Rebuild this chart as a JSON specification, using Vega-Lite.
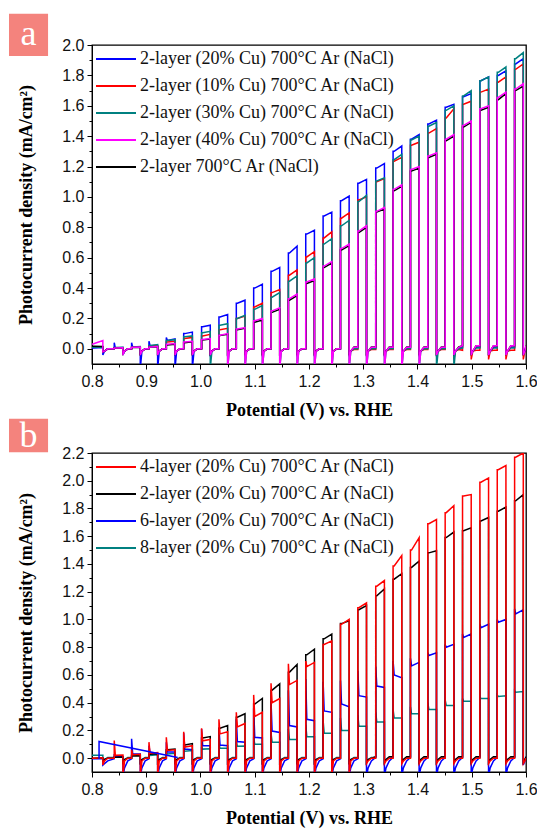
{
  "$schema": "https://vega.github.io/schema/vega-lite/v6.json",
  "padding": {"left": 8, "top": 13, "right": 4, "bottom": 4},
  "background": "white",
  "config": {
    "view": {"stroke": "#000", "strokeWidth": 1.3},
    "axis": {"grid": false, "domainColor": "#000", "tickColor": "#000", "labelColor": "#111", "titleColor": "#000", "labelFont": "Liberation Sans", "labelFontSize": 16, "titleFont": "Liberation Serif", "titleFontSize": 18, "titleFontWeight": "bold", "labelFlush": false, "labelBound": false, "labelOverlap": false, "tickSize": 5},
    "legend": {"orient": "top-left", "offset": 1, "padding": 2, "symbolType": "M-1,0H3", "symbolSize": 400, "symbolStrokeWidth": 2, "labelFont": "Liberation Serif", "labelFontSize": 18, "labelColor": "#111", "rowPadding": 7, "labelOffset": 23, "labelLimit": 400, "title": null}
  },
  "datasets": {
    "pc": [
{"i":0,"x":0.800,"a1":0.005,"a2":0.01,"a3":0.01,"a4":0.03,"a5":0.017,"b1":0,"b2":0,"b3":-0.005,"b4":0.02},
{"i":1,"x":0.803,"a1":0.005,"a2":0.01,"a3":0.01,"a4":0.033,"a5":0.017,"b1":0,"b2":0,"b3":-0.005,"b4":0.02},
{"i":2,"x":0.820,"a1":0.008,"a2":0.01,"a3":0.012,"a4":0.055,"a5":0.015,"b1":0.002,"b2":0.003,"b3":-0.005,"b4":0.02},
{"i":3,"x":0.820,"a1":-0.04,"a2":-0.02,"a3":-0.02,"a4":-0.02,"a5":-0.02,"b1":-0.05,"b2":-0.02,"b3":-0.05,"b4":-0.01},
{"i":4,"x":0.823,"a1":-0.015,"a2":-0.015,"a3":-0.015,"a4":-0.015,"a5":-0.015,"b1":-0.02,"b2":-0.01,"b3":-0.04,"b4":-0.01},
{"i":5,"x":0.829,"a1":0,"a2":0,"a3":0,"a4":0,"a5":0,"b1":0,"b2":0,"b3":-0.02,"b4":0.005},
{"i":6,"x":0.841,"a1":0,"a2":0,"a3":0,"a4":0,"a5":0,"b1":0,"b2":0,"b3":-0.005,"b4":0.005},
{"i":7,"x":0.841,"a1":0.04,"a2":0.005,"a3":0.008,"a4":0.005,"a5":0.005,"b1":0.127,"b2":0.006,"b3":0.03,"b4":0.012},
{"i":8,"x":0.843,"a1":0.005,"a2":0.005,"a3":0.008,"a4":0.005,"a5":0.005,"b1":0.02,"b2":0.006,"b3":0.01,"b4":0.012},
{"i":9,"x":0.857,"a1":0.008,"a2":0.007,"a3":0.01,"a4":0.007,"a5":0.006,"b1":0.022,"b2":0.008,"b3":0.012,"b4":0.012},
{"i":10,"x":0.857,"a1":-0.04,"a2":-0.03,"a3":-0.04,"a4":-0.04,"a5":-0.03,"b1":-0.13,"b2":-0.03,"b3":-0.13,"b4":-0.03},
{"i":11,"x":0.860,"a1":-0.015,"a2":-0.015,"a3":-0.015,"a4":-0.015,"a5":-0.015,"b1":-0.02,"b2":-0.01,"b3":-0.07,"b4":-0.01},
{"i":12,"x":0.866,"a1":0,"a2":0,"a3":0,"a4":0,"a5":0,"b1":0,"b2":0,"b3":-0.02,"b4":0.005},
{"i":13,"x":0.873,"a1":0,"a2":0,"a3":0,"a4":0,"a5":0,"b1":0,"b2":0,"b3":-0.005,"b4":0.005},
{"i":14,"x":0.873,"a1":0.04,"a2":0.01,"a3":0.012,"a4":0.01,"a5":0.008,"b1":0.06,"b2":0.015,"b3":0.14,"b4":0.02},
{"i":15,"x":0.875,"a1":0.01,"a2":0.01,"a3":0.012,"a4":0.01,"a5":0.008,"b1":0.025,"b2":0.015,"b3":0.03,"b4":0.02},
{"i":16,"x":0.889,"a1":0.012,"a2":0.012,"a3":0.015,"a4":0.012,"a5":0.01,"b1":0.028,"b2":0.018,"b3":0.03,"b4":0.02},
{"i":17,"x":0.889,"a1":-0.13,"a2":-0.03,"a3":-0.04,"a4":-0.04,"a5":-0.03,"b1":-0.13,"b2":-0.03,"b3":-0.13,"b4":-0.03},
{"i":18,"x":0.892,"a1":-0.015,"a2":-0.015,"a3":-0.015,"a4":-0.015,"a5":-0.015,"b1":-0.02,"b2":-0.01,"b3":-0.07,"b4":-0.01},
{"i":19,"x":0.898,"a1":0,"a2":0,"a3":0,"a4":0,"a5":0,"b1":0,"b2":0,"b3":-0.02,"b4":0.005},
{"i":20,"x":0.905,"a1":0,"a2":0,"a3":0,"a4":0,"a5":0,"b1":0,"b2":0,"b3":-0.005,"b4":0.005},
{"i":21,"x":0.905,"a1":0.05,"a2":0.018,"a3":0.022,"a4":0.012,"a5":0.012,"b1":0.115,"b2":0.028,"b3":0.09,"b4":0.025},
{"i":22,"x":0.907,"a1":0.02,"a2":0.018,"a3":0.022,"a4":0.012,"a5":0.012,"b1":0.035,"b2":0.028,"b3":0.035,"b4":0.02},
{"i":23,"x":0.921,"a1":0.022,"a2":0.02,"a3":0.028,"a4":0.015,"a5":0.014,"b1":0.04,"b2":0.032,"b3":0.035,"b4":0.025},
{"i":24,"x":0.921,"a1":-0.13,"a2":-0.03,"a3":-0.04,"a4":-0.04,"a5":-0.03,"b1":-0.13,"b2":-0.03,"b3":-0.13,"b4":-0.03},
{"i":25,"x":0.924,"a1":-0.015,"a2":-0.015,"a3":-0.015,"a4":-0.015,"a5":-0.015,"b1":-0.02,"b2":-0.01,"b3":-0.07,"b4":-0.01},
{"i":26,"x":0.930,"a1":0,"a2":0,"a3":0,"a4":0,"a5":0,"b1":0,"b2":0,"b3":-0.02,"b4":0.005},
{"i":27,"x":0.937,"a1":0,"a2":0,"a3":0,"a4":0,"a5":0,"b1":0,"b2":0,"b3":-0.005,"b4":0.005},
{"i":28,"x":0.937,"a1":0.075,"a2":0.045,"a3":0.055,"a4":0.03,"a5":0.025,"b1":0.15,"b2":0.06,"b3":0.115,"b4":0.04},
{"i":29,"x":0.939,"a1":0.055,"a2":0.045,"a3":0.055,"a4":0.03,"a5":0.025,"b1":0.055,"b2":0.06,"b3":0.045,"b4":0.03},
{"i":30,"x":0.953,"a1":0.065,"a2":0.05,"a3":0.06,"a4":0.035,"a5":0.03,"b1":0.06,"b2":0.065,"b3":0.045,"b4":0.035},
{"i":31,"x":0.953,"a1":-0.13,"a2":-0.03,"a3":-0.04,"a4":-0.04,"a5":-0.03,"b1":-0.13,"b2":-0.03,"b3":-0.13,"b4":-0.03},
{"i":32,"x":0.956,"a1":-0.015,"a2":-0.015,"a3":-0.015,"a4":-0.015,"a5":-0.015,"b1":-0.02,"b2":-0.01,"b3":-0.07,"b4":-0.01},
{"i":33,"x":0.962,"a1":0,"a2":0,"a3":0,"a4":0,"a5":0,"b1":0,"b2":0,"b3":-0.02,"b4":0.005},
{"i":34,"x":0.969,"a1":0,"a2":0,"a3":0,"a4":0,"a5":0,"b1":0,"b2":0,"b3":-0.005,"b4":0.005},
{"i":35,"x":0.969,"a1":0.1,"a2":0.068,"a3":0.08,"a4":0.045,"a5":0.04,"b1":0.19,"b2":0.095,"b3":0.18,"b4":0.06},
{"i":36,"x":0.971,"a1":0.1,"a2":0.068,"a3":0.08,"a4":0.045,"a5":0.04,"b1":0.08,"b2":0.095,"b3":0.065,"b4":0.05},
{"i":37,"x":0.985,"a1":0.11,"a2":0.075,"a3":0.085,"a4":0.05,"a5":0.046,"b1":0.09,"b2":0.105,"b3":0.06,"b4":0.055},
{"i":38,"x":0.985,"a1":-0.13,"a2":-0.03,"a3":-0.04,"a4":-0.04,"a5":-0.03,"b1":-0.13,"b2":-0.03,"b3":-0.13,"b4":-0.03},
{"i":39,"x":0.988,"a1":-0.015,"a2":-0.015,"a3":-0.015,"a4":-0.015,"a5":-0.015,"b1":-0.02,"b2":-0.01,"b3":-0.07,"b4":-0.01},
{"i":40,"x":0.994,"a1":0,"a2":0,"a3":0,"a4":0,"a5":0,"b1":0,"b2":0,"b3":-0.02,"b4":0.005},
{"i":41,"x":1.002,"a1":0,"a2":0,"a3":0,"a4":0,"a5":0,"b1":0,"b2":0,"b3":-0.005,"b4":0.005},
{"i":42,"x":1.002,"a1":0.145,"a2":0.085,"a3":0.105,"a4":0.062,"a5":0.058,"b1":0.215,"b2":0.145,"b3":0.21,"b4":0.08},
{"i":43,"x":1.004,"a1":0.145,"a2":0.085,"a3":0.105,"a4":0.062,"a5":0.058,"b1":0.125,"b2":0.145,"b3":0.09,"b4":0.065},
{"i":44,"x":1.018,"a1":0.155,"a2":0.095,"a3":0.115,"a4":0.068,"a5":0.064,"b1":0.135,"b2":0.155,"b3":0.09,"b4":0.067},
{"i":45,"x":1.018,"a1":-0.05,"a2":-0.03,"a3":-0.13,"a4":-0.04,"a5":-0.03,"b1":-0.13,"b2":-0.03,"b3":-0.13,"b4":-0.03},
{"i":46,"x":1.021,"a1":-0.015,"a2":-0.015,"a3":-0.015,"a4":-0.015,"a5":-0.015,"b1":-0.02,"b2":-0.01,"b3":-0.07,"b4":-0.01},
{"i":47,"x":1.027,"a1":0,"a2":0,"a3":0,"a4":0,"a5":0,"b1":0,"b2":0,"b3":-0.02,"b4":0.005},
{"i":48,"x":1.034,"a1":0,"a2":0,"a3":0,"a4":0,"a5":0,"b1":0,"b2":0,"b3":-0.005,"b4":0.005},
{"i":49,"x":1.034,"a1":0.21,"a2":0.125,"a3":0.155,"a4":0.09,"a5":0.088,"b1":0.28,"b2":0.215,"b3":0.22,"b4":0.1},
{"i":50,"x":1.036,"a1":0.21,"a2":0.125,"a3":0.155,"a4":0.09,"a5":0.088,"b1":0.175,"b2":0.215,"b3":0.095,"b4":0.072},
{"i":51,"x":1.050,"a1":0.225,"a2":0.135,"a3":0.165,"a4":0.1,"a5":0.095,"b1":0.19,"b2":0.235,"b3":0.09,"b4":0.072},
{"i":52,"x":1.050,"a1":-0.05,"a2":-0.03,"a3":-0.13,"a4":-0.13,"a5":-0.03,"b1":-0.13,"b2":-0.03,"b3":-0.13,"b4":-0.03},
{"i":53,"x":1.053,"a1":-0.015,"a2":-0.015,"a3":-0.015,"a4":-0.015,"a5":-0.015,"b1":-0.02,"b2":-0.01,"b3":-0.07,"b4":-0.01},
{"i":54,"x":1.059,"a1":0,"a2":0,"a3":0,"a4":0,"a5":0,"b1":0,"b2":0,"b3":-0.02,"b4":0.005},
{"i":55,"x":1.066,"a1":0,"a2":0,"a3":0,"a4":0,"a5":0,"b1":0,"b2":0,"b3":-0.005,"b4":0.005},
{"i":56,"x":1.066,"a1":0.3,"a2":0.2,"a3":0.2,"a4":0.13,"a5":0.125,"b1":0.33,"b2":0.295,"b3":0.28,"b4":0.12},
{"i":57,"x":1.068,"a1":0.3,"a2":0.2,"a3":0.2,"a4":0.13,"a5":0.125,"b1":0.225,"b2":0.295,"b3":0.12,"b4":0.085},
{"i":58,"x":1.082,"a1":0.32,"a2":0.215,"a3":0.22,"a4":0.14,"a5":0.135,"b1":0.25,"b2":0.32,"b3":0.115,"b4":0.088},
{"i":59,"x":1.082,"a1":-0.05,"a2":-0.03,"a3":-0.13,"a4":-0.13,"a5":-0.03,"b1":-0.13,"b2":-0.03,"b3":-0.13,"b4":-0.03},
{"i":60,"x":1.085,"a1":-0.015,"a2":-0.015,"a3":-0.015,"a4":-0.015,"a5":-0.015,"b1":-0.02,"b2":-0.01,"b3":-0.07,"b4":-0.01},
{"i":61,"x":1.091,"a1":0,"a2":0,"a3":0,"a4":0,"a5":0,"b1":0,"b2":0,"b3":-0.02,"b4":0.005},
{"i":62,"x":1.098,"a1":0,"a2":0,"a3":0,"a4":0,"a5":0,"b1":0,"b2":0,"b3":-0.005,"b4":0.005},
{"i":63,"x":1.098,"a1":0.4,"a2":0.275,"a3":0.26,"a4":0.185,"a5":0.175,"b1":0.456,"b2":0.39,"b3":0.36,"b4":0.15},
{"i":64,"x":1.100,"a1":0.4,"a2":0.275,"a3":0.26,"a4":0.185,"a5":0.175,"b1":0.3,"b2":0.39,"b3":0.15,"b4":0.1},
{"i":65,"x":1.114,"a1":0.425,"a2":0.3,"a3":0.285,"a4":0.2,"a5":0.19,"b1":0.33,"b2":0.43,"b3":0.145,"b4":0.1},
{"i":66,"x":1.114,"a1":-0.05,"a2":-0.03,"a3":-0.13,"a4":-0.13,"a5":-0.03,"b1":-0.13,"b2":-0.03,"b3":-0.13,"b4":-0.03},
{"i":67,"x":1.117,"a1":-0.015,"a2":-0.015,"a3":-0.015,"a4":-0.015,"a5":-0.015,"b1":-0.02,"b2":-0.01,"b3":-0.07,"b4":-0.01},
{"i":68,"x":1.123,"a1":0,"a2":0,"a3":0,"a4":0,"a5":0,"b1":0,"b2":0,"b3":-0.02,"b4":0.005},
{"i":69,"x":1.130,"a1":0,"a2":0,"a3":0,"a4":0,"a5":0,"b1":0,"b2":0,"b3":-0.005,"b4":0.005},
{"i":70,"x":1.130,"a1":0.51,"a2":0.37,"a3":0.34,"a4":0.25,"a5":0.24,"b1":0.54,"b2":0.49,"b3":0.41,"b4":0.18},
{"i":71,"x":1.132,"a1":0.51,"a2":0.37,"a3":0.34,"a4":0.25,"a5":0.24,"b1":0.4,"b2":0.49,"b3":0.195,"b4":0.115},
{"i":72,"x":1.146,"a1":0.535,"a2":0.39,"a3":0.37,"a4":0.27,"a5":0.26,"b1":0.43,"b2":0.535,"b3":0.185,"b4":0.115},
{"i":73,"x":1.146,"a1":-0.05,"a2":-0.03,"a3":-0.13,"a4":-0.13,"a5":-0.03,"b1":-0.13,"b2":-0.03,"b3":-0.13,"b4":-0.03},
{"i":74,"x":1.149,"a1":-0.015,"a2":-0.015,"a3":-0.015,"a4":-0.015,"a5":-0.015,"b1":-0.02,"b2":-0.01,"b3":-0.07,"b4":-0.01},
{"i":75,"x":1.155,"a1":0,"a2":0,"a3":0,"a4":0,"a5":0,"b1":0,"b2":0,"b3":-0.02,"b4":0.005},
{"i":76,"x":1.162,"a1":0,"a2":0,"a3":0,"a4":0,"a5":0,"b1":0,"b2":0,"b3":-0.005,"b4":0.005},
{"i":77,"x":1.162,"a1":0.63,"a2":0.485,"a3":0.445,"a4":0.33,"a5":0.32,"b1":0.68,"b2":0.62,"b3":0.49,"b4":0.21},
{"i":78,"x":1.164,"a1":0.63,"a2":0.485,"a3":0.445,"a4":0.33,"a5":0.32,"b1":0.53,"b2":0.62,"b3":0.235,"b4":0.135},
{"i":79,"x":1.178,"a1":0.675,"a2":0.52,"a3":0.48,"a4":0.36,"a5":0.35,"b1":0.56,"b2":0.675,"b3":0.225,"b4":0.135},
{"i":80,"x":1.178,"a1":-0.05,"a2":-0.03,"a3":-0.13,"a4":-0.13,"a5":-0.03,"b1":-0.13,"b2":-0.03,"b3":-0.13,"b4":-0.03},
{"i":81,"x":1.181,"a1":-0.015,"a2":-0.015,"a3":-0.015,"a4":-0.015,"a5":-0.015,"b1":-0.02,"b2":-0.01,"b3":-0.07,"b4":-0.01},
{"i":82,"x":1.187,"a1":0,"a2":0,"a3":0,"a4":0,"a5":0,"b1":0,"b2":0,"b3":-0.02,"b4":0.005},
{"i":83,"x":1.194,"a1":0,"a2":0,"a3":0,"a4":0,"a5":0,"b1":0,"b2":0,"b3":-0.005,"b4":0.005},
{"i":84,"x":1.194,"a1":0.755,"a2":0.605,"a3":0.565,"a4":0.44,"a5":0.43,"b1":0.7,"b2":0.745,"b3":0.57,"b4":0.24},
{"i":85,"x":1.196,"a1":0.755,"a2":0.605,"a3":0.565,"a4":0.44,"a5":0.43,"b1":0.66,"b2":0.745,"b3":0.28,"b4":0.155},
{"i":86,"x":1.210,"a1":0.78,"a2":0.64,"a3":0.6,"a4":0.46,"a5":0.45,"b1":0.69,"b2":0.785,"b3":0.27,"b4":0.155},
{"i":87,"x":1.210,"a1":-0.05,"a2":-0.03,"a3":-0.13,"a4":-0.13,"a5":-0.03,"b1":-0.13,"b2":-0.03,"b3":-0.13,"b4":-0.03},
{"i":88,"x":1.213,"a1":-0.015,"a2":-0.015,"a3":-0.015,"a4":-0.015,"a5":-0.015,"b1":-0.02,"b2":-0.01,"b3":-0.07,"b4":-0.01},
{"i":89,"x":1.219,"a1":0,"a2":0,"a3":0,"a4":0,"a5":0,"b1":0,"b2":0,"b3":-0.02,"b4":0.005},
{"i":90,"x":1.226,"a1":0,"a2":0,"a3":0,"a4":0,"a5":0,"b1":0,"b2":0,"b3":-0.005,"b4":0.005},
{"i":91,"x":1.226,"a1":0.875,"a2":0.73,"a3":0.69,"a4":0.545,"a5":0.535,"b1":0.82,"b2":0.86,"b3":0.55,"b4":0.27},
{"i":92,"x":1.228,"a1":0.875,"a2":0.73,"a3":0.69,"a4":0.545,"a5":0.535,"b1":0.82,"b2":0.86,"b3":0.34,"b4":0.18},
{"i":93,"x":1.242,"a1":0.9,"a2":0.77,"a3":0.725,"a4":0.575,"a5":0.565,"b1":0.845,"b2":0.895,"b3":0.33,"b4":0.18},
{"i":94,"x":1.242,"a1":-0.05,"a2":-0.03,"a3":-0.13,"a4":-0.13,"a5":-0.03,"b1":-0.13,"b2":-0.03,"b3":-0.13,"b4":-0.03},
{"i":95,"x":1.245,"a1":-0.015,"a2":-0.015,"a3":-0.015,"a4":-0.015,"a5":-0.015,"b1":-0.02,"b2":-0.01,"b3":-0.07,"b4":-0.01},
{"i":96,"x":1.251,"a1":0,"a2":0,"a3":0,"a4":0,"a5":0,"b1":0,"b2":0,"b3":-0.02,"b4":0.005},
{"i":97,"x":1.258,"a1":0,"a2":0,"a3":0,"a4":0,"a5":0,"b1":0,"b2":0,"b3":-0.005,"b4":0.005},
{"i":98,"x":1.258,"a1":0.975,"a2":0.86,"a3":0.81,"a4":0.66,"a5":0.65,"b1":0.965,"b2":0.97,"b3":0.56,"b4":0.29},
{"i":99,"x":1.260,"a1":0.975,"a2":0.86,"a3":0.81,"a4":0.66,"a5":0.65,"b1":0.965,"b2":0.97,"b3":0.39,"b4":0.2},
{"i":100,"x":1.274,"a1":1.005,"a2":0.895,"a3":0.845,"a4":0.69,"a5":0.68,"b1":1.0,"b2":0.99,"b3":0.37,"b4":0.2},
{"i":101,"x":1.274,"a1":-0.05,"a2":-0.03,"a3":-0.13,"a4":-0.13,"a5":-0.03,"b1":-0.13,"b2":-0.03,"b3":-0.13,"b4":-0.03},
{"i":102,"x":1.277,"a1":-0.015,"a2":-0.015,"a3":-0.015,"a4":-0.015,"a5":-0.015,"b1":-0.02,"b2":-0.01,"b3":-0.07,"b4":-0.01},
{"i":103,"x":1.283,"a1":0.005,"a2":-0.005,"a3":0,"a4":0.01,"a5":0.012,"b1":0,"b2":0,"b3":-0.02,"b4":0.005},
{"i":104,"x":1.290,"a1":0.005,"a2":-0.005,"a3":0,"a4":0.01,"a5":0.012,"b1":0,"b2":0,"b3":-0.005,"b4":0.005},
{"i":105,"x":1.290,"a1":1.09,"a2":0.98,"a3":0.97,"a4":0.775,"a5":0.765,"b1":1.085,"b2":1.07,"b3":0.63,"b4":0.31},
{"i":106,"x":1.292,"a1":1.09,"a2":0.98,"a3":0.97,"a4":0.775,"a5":0.765,"b1":1.085,"b2":1.07,"b3":0.45,"b4":0.23},
{"i":107,"x":1.306,"a1":1.115,"a2":1.0,"a3":1.01,"a4":0.81,"a5":0.8,"b1":1.12,"b2":1.1,"b3":0.44,"b4":0.23},
{"i":108,"x":1.306,"a1":-0.05,"a2":-0.03,"a3":-0.13,"a4":-0.13,"a5":-0.03,"b1":-0.04,"b2":-0.03,"b3":-0.13,"b4":-0.03},
{"i":109,"x":1.309,"a1":-0.015,"a2":-0.015,"a3":-0.015,"a4":-0.015,"a5":-0.015,"b1":-0.02,"b2":-0.01,"b3":-0.07,"b4":-0.01},
{"i":110,"x":1.315,"a1":0.005,"a2":-0.005,"a3":0,"a4":0.01,"a5":0.012,"b1":0,"b2":0,"b3":-0.02,"b4":0.005},
{"i":111,"x":1.323,"a1":0.005,"a2":-0.005,"a3":0,"a4":0.01,"a5":0.012,"b1":0,"b2":0.01,"b3":0.005,"b4":0.005},
{"i":112,"x":1.323,"a1":1.19,"a2":1.1,"a3":1.105,"a4":0.905,"a5":0.9,"b1":1.24,"b2":1.17,"b3":0.66,"b4":0.33},
{"i":113,"x":1.325,"a1":1.19,"a2":1.1,"a3":1.105,"a4":0.905,"a5":0.9,"b1":1.24,"b2":1.17,"b3":0.52,"b4":0.26},
{"i":114,"x":1.339,"a1":1.22,"a2":1.12,"a3":1.125,"a4":0.93,"a5":0.92,"b1":1.28,"b2":1.22,"b3":0.51,"b4":0.26},
{"i":115,"x":1.339,"a1":-0.05,"a2":-0.03,"a3":-0.13,"a4":-0.13,"a5":-0.03,"b1":-0.04,"b2":-0.03,"b3":-0.13,"b4":-0.03},
{"i":116,"x":1.342,"a1":-0.015,"a2":-0.015,"a3":-0.015,"a4":-0.015,"a5":-0.015,"b1":-0.02,"b2":-0.01,"b3":-0.07,"b4":-0.01},
{"i":117,"x":1.348,"a1":0.005,"a2":-0.005,"a3":0,"a4":0.01,"a5":0.012,"b1":0,"b2":0.01,"b3":-0.02,"b4":0.005},
{"i":118,"x":1.355,"a1":0.005,"a2":-0.005,"a3":0,"a4":0.01,"a5":0.012,"b1":0,"b2":0.01,"b3":0.005,"b4":0.005},
{"i":119,"x":1.355,"a1":1.3,"a2":1.235,"a3":1.245,"a4":1.05,"a5":1.04,"b1":1.385,"b2":1.29,"b3":0.7,"b4":0.35},
{"i":120,"x":1.357,"a1":1.3,"a2":1.235,"a3":1.245,"a4":1.05,"a5":1.04,"b1":1.385,"b2":1.29,"b3":0.6,"b4":0.29},
{"i":121,"x":1.371,"a1":1.335,"a2":1.26,"a3":1.28,"a4":1.08,"a5":1.07,"b1":1.46,"b2":1.33,"b3":0.58,"b4":0.29},
{"i":122,"x":1.371,"a1":-0.05,"a2":-0.03,"a3":-0.13,"a4":-0.13,"a5":-0.03,"b1":-0.04,"b2":-0.03,"b3":-0.13,"b4":-0.03},
{"i":123,"x":1.374,"a1":-0.015,"a2":-0.015,"a3":-0.015,"a4":-0.015,"a5":-0.015,"b1":-0.02,"b2":-0.01,"b3":-0.07,"b4":-0.01},
{"i":124,"x":1.380,"a1":0.005,"a2":-0.005,"a3":0,"a4":0.01,"a5":0.012,"b1":0,"b2":0.01,"b3":-0.02,"b4":0.005},
{"i":125,"x":1.387,"a1":0.005,"a2":-0.005,"a3":0,"a4":0.01,"a5":0.012,"b1":0,"b2":0.01,"b3":0.005,"b4":0.005},
{"i":126,"x":1.387,"a1":1.38,"a2":1.34,"a3":1.375,"a4":1.18,"a5":1.17,"b1":1.5,"b2":1.375,"b3":0.72,"b4":0.37},
{"i":127,"x":1.389,"a1":1.38,"a2":1.34,"a3":1.375,"a4":1.18,"a5":1.17,"b1":1.5,"b2":1.375,"b3":0.665,"b4":0.32},
{"i":128,"x":1.403,"a1":1.41,"a2":1.36,"a3":1.4,"a4":1.2,"a5":1.19,"b1":1.59,"b2":1.42,"b3":0.69,"b4":0.32},
{"i":129,"x":1.403,"a1":-0.05,"a2":-0.03,"a3":-0.13,"a4":-0.13,"a5":-0.03,"b1":-0.04,"b2":-0.03,"b3":-0.13,"b4":-0.03},
{"i":130,"x":1.406,"a1":-0.015,"a2":-0.015,"a3":-0.015,"a4":-0.015,"a5":-0.015,"b1":-0.02,"b2":-0.01,"b3":-0.07,"b4":-0.01},
{"i":131,"x":1.412,"a1":0.005,"a2":-0.005,"a3":0,"a4":0.01,"a5":0.012,"b1":0,"b2":0.01,"b3":-0.02,"b4":0.005},
{"i":132,"x":1.419,"a1":0.005,"a2":-0.005,"a3":0,"a4":0.01,"a5":0.012,"b1":0,"b2":0.01,"b3":0.005,"b4":0.005},
{"i":133,"x":1.419,"a1":1.48,"a2":1.42,"a3":1.465,"a4":1.27,"a5":1.26,"b1":1.69,"b2":1.48,"b3":0.76,"b4":0.4},
{"i":134,"x":1.421,"a1":1.48,"a2":1.42,"a3":1.465,"a4":1.27,"a5":1.26,"b1":1.69,"b2":1.48,"b3":0.74,"b4":0.35},
{"i":135,"x":1.435,"a1":1.505,"a2":1.45,"a3":1.49,"a4":1.29,"a5":1.28,"b1":1.72,"b2":1.495,"b3":0.76,"b4":0.35},
{"i":136,"x":1.435,"a1":-0.05,"a2":-0.03,"a3":-0.13,"a4":-0.04,"a5":-0.03,"b1":-0.04,"b2":-0.03,"b3":-0.13,"b4":-0.03},
{"i":137,"x":1.438,"a1":-0.015,"a2":-0.015,"a3":-0.015,"a4":-0.015,"a5":-0.015,"b1":-0.02,"b2":-0.01,"b3":-0.07,"b4":-0.01},
{"i":138,"x":1.444,"a1":0.005,"a2":-0.005,"a3":0,"a4":0.01,"a5":0.012,"b1":0,"b2":0.01,"b3":-0.02,"b4":0.005},
{"i":139,"x":1.451,"a1":0.005,"a2":-0.005,"a3":0,"a4":0.01,"a5":0.012,"b1":0,"b2":0.01,"b3":0.005,"b4":0.005},
{"i":140,"x":1.451,"a1":1.59,"a2":1.52,"a3":1.57,"a4":1.38,"a5":1.37,"b1":1.77,"b2":1.59,"b3":0.82,"b4":0.42},
{"i":141,"x":1.453,"a1":1.59,"a2":1.52,"a3":1.57,"a4":1.38,"a5":1.37,"b1":1.77,"b2":1.59,"b3":0.8,"b4":0.38},
{"i":142,"x":1.467,"a1":1.61,"a2":1.58,"a3":1.6,"a4":1.41,"a5":1.4,"b1":1.82,"b2":1.63,"b3":0.82,"b4":0.38},
{"i":143,"x":1.467,"a1":-0.03,"a2":-0.07,"a3":-0.13,"a4":-0.04,"a5":-0.03,"b1":-0.04,"b2":-0.03,"b3":-0.13,"b4":-0.03},
{"i":144,"x":1.470,"a1":-0.015,"a2":-0.015,"a3":-0.015,"a4":-0.015,"a5":-0.015,"b1":-0.02,"b2":-0.01,"b3":-0.07,"b4":-0.01},
{"i":145,"x":1.476,"a1":0.005,"a2":-0.005,"a3":0,"a4":0.01,"a5":0.012,"b1":0,"b2":0.01,"b3":-0.02,"b4":0.005},
{"i":146,"x":1.483,"a1":0.01,"a2":-0.01,"a3":0.005,"a4":0.02,"a5":0.02,"b1":0,"b2":0.01,"b3":0.005,"b4":0.005},
{"i":147,"x":1.483,"a1":1.66,"a2":1.61,"a3":1.665,"a4":1.47,"a5":1.46,"b1":1.89,"b2":1.64,"b3":0.895,"b4":0.43},
{"i":148,"x":1.485,"a1":1.66,"a2":1.61,"a3":1.665,"a4":1.47,"a5":1.46,"b1":1.89,"b2":1.64,"b3":0.87,"b4":0.41},
{"i":149,"x":1.499,"a1":1.68,"a2":1.63,"a3":1.7,"a4":1.5,"a5":1.49,"b1":1.9,"b2":1.66,"b3":0.895,"b4":0.41},
{"i":150,"x":1.499,"a1":-0.03,"a2":-0.07,"a3":-0.04,"a4":-0.04,"a5":-0.03,"b1":-0.04,"b2":-0.03,"b3":-0.13,"b4":-0.03},
{"i":151,"x":1.502,"a1":-0.015,"a2":-0.015,"a3":-0.015,"a4":-0.015,"a5":-0.015,"b1":-0.02,"b2":-0.01,"b3":-0.07,"b4":-0.01},
{"i":152,"x":1.508,"a1":0.01,"a2":-0.01,"a3":0.005,"a4":0.02,"a5":0.02,"b1":0,"b2":0.01,"b3":-0.02,"b4":0.005},
{"i":153,"x":1.515,"a1":0.01,"a2":-0.01,"a3":0.005,"a4":0.02,"a5":0.02,"b1":0,"b2":0.01,"b3":0.005,"b4":0.005},
{"i":154,"x":1.515,"a1":1.765,"a2":1.69,"a3":1.765,"a4":1.58,"a5":1.57,"b1":1.99,"b2":1.71,"b3":0.965,"b4":0.44},
{"i":155,"x":1.517,"a1":1.765,"a2":1.69,"a3":1.765,"a4":1.58,"a5":1.57,"b1":1.99,"b2":1.71,"b3":0.94,"b4":0.43},
{"i":156,"x":1.531,"a1":1.79,"a2":1.71,"a3":1.79,"a4":1.6,"a5":1.59,"b1":2.02,"b2":1.735,"b3":0.965,"b4":0.43},
{"i":157,"x":1.531,"a1":-0.03,"a2":-0.07,"a3":-0.04,"a4":-0.04,"a5":-0.03,"b1":-0.04,"b2":-0.03,"b3":-0.13,"b4":-0.03},
{"i":158,"x":1.534,"a1":-0.015,"a2":-0.015,"a3":-0.015,"a4":-0.015,"a5":-0.015,"b1":-0.02,"b2":-0.01,"b3":-0.07,"b4":-0.01},
{"i":159,"x":1.540,"a1":0.01,"a2":-0.01,"a3":0.005,"a4":0.02,"a5":0.02,"b1":0,"b2":0.01,"b3":-0.02,"b4":0.005},
{"i":160,"x":1.547,"a1":0.01,"a2":-0.01,"a3":0.005,"a4":0.02,"a5":0.02,"b1":0,"b2":0.01,"b3":0.005,"b4":0.005},
{"i":161,"x":1.547,"a1":1.8,"a2":1.755,"a3":1.82,"a4":1.655,"a5":1.64,"b1":2.08,"b2":1.78,"b3":1.0,"b4":0.455},
{"i":162,"x":1.549,"a1":1.8,"a2":1.755,"a3":1.82,"a4":1.655,"a5":1.64,"b1":2.08,"b2":1.78,"b3":0.98,"b4":0.445},
{"i":163,"x":1.563,"a1":1.83,"a2":1.79,"a3":1.855,"a4":1.69,"a5":1.68,"b1":2.11,"b2":1.81,"b3":1.0,"b4":0.45},
{"i":164,"x":1.563,"a1":-0.03,"a2":-0.07,"a3":-0.04,"a4":-0.04,"a5":-0.03,"b1":-0.04,"b2":-0.03,"b3":-0.13,"b4":-0.03},
{"i":165,"x":1.566,"a1":-0.015,"a2":-0.015,"a3":-0.015,"a4":-0.015,"a5":-0.015,"b1":-0.02,"b2":-0.01,"b3":-0.07,"b4":-0.01},
{"i":166,"x":1.572,"a1":0.01,"a2":-0.01,"a3":0.005,"a4":0.02,"a5":0.02,"b1":0,"b2":0.01,"b3":-0.02,"b4":0.005},
{"i":167,"x":1.579,"a1":0.01,"a2":-0.01,"a3":0.005,"a4":0.02,"a5":0.02,"b1":0,"b2":0.01,"b3":0.005,"b4":0.005},
{"i":168,"x":1.579,"a1":1.875,"a2":1.84,"a3":1.91,"a4":1.71,"a5":1.7,"b1":2.17,"b2":1.855,"b3":1.075,"b4":0.485},
{"i":169,"x":1.581,"a1":1.875,"a2":1.84,"a3":1.91,"a4":1.71,"a5":1.7,"b1":2.17,"b2":1.855,"b3":1.04,"b4":0.475},
{"i":170,"x":1.595,"a1":1.91,"a2":1.875,"a3":1.95,"a4":1.745,"a5":1.73,"b1":2.2,"b2":1.9,"b3":1.07,"b4":0.48},
{"i":171,"x":1.595,"a1":-0.03,"a2":-0.07,"a3":-0.04,"a4":-0.04,"a5":-0.03,"b1":-0.04,"b2":-0.03,"b3":-0.05,"b4":-0.03},
{"i":172,"x":1.598,"a1":-0.015,"a2":-0.015,"a3":-0.015,"a4":-0.015,"a5":-0.015,"b1":-0.02,"b2":-0.01,"b3":-0.02,"b4":-0.01},
{"i":173,"x":1.600,"a1":0.01,"a2":-0.01,"a3":0.005,"a4":0.02,"a5":0.02,"b1":0,"b2":0.01,"b3":0.01,"b4":0.005}
    ],
    "b6start": [
      {"x": 0.813, "v": -0.005},
      {"x": 0.813, "v": 0.12},
      {"x": 0.958, "v": 0.005}
    ]
  },
  "spacing": 89,
  "bounds": "flush",
  "resolve": {"scale": {"color": "independent"}, "legend": {"color": "independent"}},
  "vconcat": [
    {
      "width": 434,
      "height": 319,
      "resolve": {"axis": {"x": "independent", "y": "independent"}},
      "layer": [
        {
          "data": {"name": "pc"},
          "transform": [{"fold": ["a1", "a2", "a3", "a5", "a4"], "as": ["s", "v"]}],
          "mark": {"type": "line", "strokeWidth": 1.5, "clip": true},
          "encoding": {
            "x": {"field": "x", "type": "quantitative", "scale": {"domain": [0.8, 1.6], "nice": false, "zero": false},
              "axis": {"orient": "bottom", "title": "Potential (V) vs. RHE", "values": [0.8,0.9,1.0,1.1,1.2,1.3,1.4,1.5,1.6], "format": ".1f",
                "labelPadding": 4, "titlePadding": 12}},
            "y": {"field": "v", "type": "quantitative", "scale": {"domain": [-0.1, 2.0], "nice": false, "zero": false},
              "axis": {"orient": "left", "title": "Photocurrent density (mA/cm²)", "values": [0,0.2,0.4,0.6,0.8,1.0,1.2,1.4,1.6,1.8,2.0], "format": ".1f",
                "labelPadding": 3, "titlePadding": 26}},
            "color": {"field": "s", "type": "nominal",
              "scale": {"domain": ["a1", "a2", "a3", "a4", "a5"], "range": ["#0000FF", "#FF0000", "#008080", "#FF00FF", "#000000"]},
              "legend": {"labelExpr": "datum.label=='a1' ? '2-layer (20% Cu) 700°C Ar (NaCl)' : datum.label=='a2' ? '2-layer (10% Cu) 700°C Ar (NaCl)' : datum.label=='a3' ? '2-layer (30% Cu) 700°C Ar (NaCl)' : datum.label=='a4' ? '2-layer (40% Cu) 700°C Ar (NaCl)' : '2-layer 700°C Ar (NaCl)'"}},
            "order": {"field": "i", "type": "quantitative"}
          }
        },
        {
          "data": {"values": [{}]},
          "mark": {"type": "point", "opacity": 0},
          "encoding": {
            "x": {"datum": 1.0, "type": "quantitative", "axis": {"orient": "bottom", "values": [0.85,0.95,1.05,1.15,1.25,1.35,1.45,1.55], "labels": false, "domain": false, "tickSize": 3, "title": null}},
            "y": {"datum": 0.0, "type": "quantitative", "axis": {"orient": "left", "values": [0.1,0.3,0.5,0.7,0.9,1.1,1.3,1.5,1.7,1.9], "labels": false, "domain": false, "tickSize": 3, "title": null}}
          }
        },
        {
          "data": {"values": [{}]},
          "mark": {"type": "rect", "color": "#F4837D", "clip": false},
          "encoding": {"x": {"datum": 0.647, "axis": null}, "x2": {"datum": 0.719}, "y": {"datum": 2.206, "axis": null}, "y2": {"datum": 1.928}}
        },
        {
          "data": {"values": [{}]},
          "mark": {"type": "text", "text": "a", "color": "white", "font": "Liberation Serif", "fontSize": 36, "align": "center", "baseline": "middle", "clip": false},
          "encoding": {"x": {"datum": 0.683, "axis": null}, "y": {"datum": 2.075, "axis": null}}
        }
      ]
    },
    {
      "width": 434,
      "height": 319,
      "resolve": {"axis": {"x": "independent", "y": "independent"}},
      "layer": [
        {
          "data": {"name": "pc"},
          "transform": [{"fold": ["b4", "b3", "b2", "b1"], "as": ["s", "v"]}],
          "mark": {"type": "line", "strokeWidth": 1.5, "clip": true},
          "encoding": {
            "x": {"field": "x", "type": "quantitative", "scale": {"domain": [0.8, 1.6], "nice": false, "zero": false},
              "axis": {"orient": "bottom", "title": "Potential (V) vs. RHE", "values": [0.8,0.9,1.0,1.1,1.2,1.3,1.4,1.5,1.6], "format": ".1f",
                "labelPadding": 4, "titlePadding": 12}},
            "y": {"field": "v", "type": "quantitative", "scale": {"domain": [-0.1, 2.2], "nice": false, "zero": false},
              "axis": {"orient": "left", "title": "Photocurrent density (mA/cm²)", "values": [0,0.2,0.4,0.6,0.8,1.0,1.2,1.4,1.6,1.8,2.0,2.2], "format": ".1f",
                "labelPadding": 3, "titlePadding": 26}},
            "color": {"field": "s", "type": "nominal",
              "scale": {"domain": ["b1", "b2", "b3", "b4"], "range": ["#FF0000", "#000000", "#0000FF", "#008080"]},
              "legend": {"labelExpr": "datum.label=='b1' ? '4-layer (20% Cu) 700°C Ar (NaCl)' : datum.label=='b2' ? '2-layer (20% Cu) 700°C Ar (NaCl)' : datum.label=='b3' ? '6-layer (20% Cu) 700°C Ar (NaCl)' : '8-layer (20% Cu) 700°C Ar (NaCl)'"}},
            "order": {"field": "i", "type": "quantitative"}
          }
        },
        {
          "data": {"values": [{}]},
          "mark": {"type": "point", "opacity": 0},
          "encoding": {
            "x": {"datum": 1.0, "type": "quantitative", "axis": {"orient": "bottom", "values": [0.85,0.95,1.05,1.15,1.25,1.35,1.45,1.55], "labels": false, "domain": false, "tickSize": 3, "title": null}},
            "y": {"datum": 0.0, "type": "quantitative", "axis": {"orient": "left", "values": [0.1,0.3,0.5,0.7,0.9,1.1,1.3,1.5,1.7,1.9,2.1], "labels": false, "domain": false, "tickSize": 3, "title": null}}
          }
        },
        {
          "data": {"name": "b6start"},
          "mark": {"type": "line", "color": "#0000FF", "strokeWidth": 1.5, "clip": true},
          "encoding": {"x": {"field": "x", "type": "quantitative", "axis": null}, "y": {"field": "v", "type": "quantitative", "axis": null}}
        },
        {
          "data": {"values": [{}]},
          "mark": {"type": "rect", "color": "#F4837D", "clip": false},
          "encoding": {"x": {"datum": 0.647, "axis": null}, "x2": {"datum": 0.719}, "y": {"datum": 2.447, "axis": null}, "y2": {"datum": 2.206}}
        },
        {
          "data": {"values": [{}]},
          "mark": {"type": "text", "text": "b", "color": "white", "font": "Liberation Serif", "fontSize": 36, "align": "center", "baseline": "middle", "clip": false},
          "encoding": {"x": {"datum": 0.683, "axis": null}, "y": {"datum": 2.326, "axis": null}}
        }
      ]
    }
  ]
}
